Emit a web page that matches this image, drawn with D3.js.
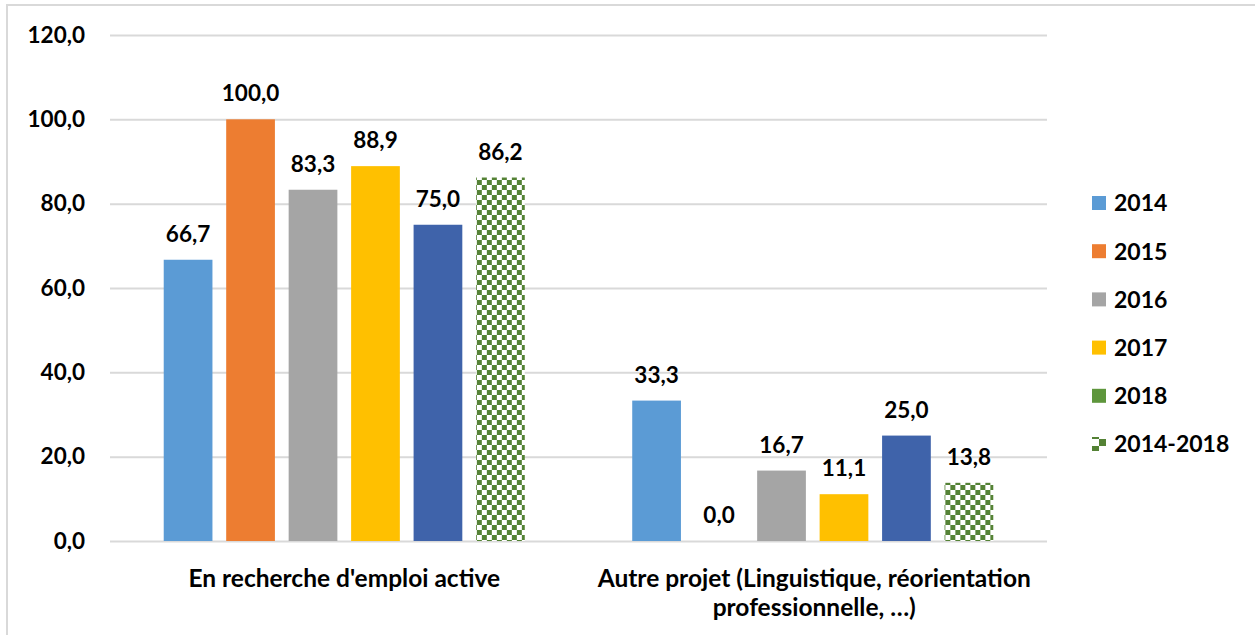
<!DOCTYPE html>
<html>
<head>
<meta charset="utf-8">
<script src="https://cdn.jsdelivr.net/npm/d3@7"></script>
<style>
html,body{margin:0;padding:0;background:#fff;}
svg{display:block;}
text{font-family:Lato,"Open Sans",sans-serif;font-weight:bold;fill:#000;}
</style>
</head>
<body>
<svg id="chart" width="1255" height="635"></svg>
<script>
const categories = ["En recherche d'emploi active", "Autre projet (Linguistique, réorientation professionnelle, …)"];
const categoryLines = [["En recherche d'emploi active"], ["Autre projet (Linguistique, réorientation", "professionnelle, …)"]];
const seriesNames = ["2014", "2015", "2016", "2017", "2018", "2014-2018"];
const values2014 = [66.7, 33.3];
const values2015 = [100.0, 0.0];
const values2016 = [83.3, 16.7];
const values2017 = [88.9, 11.1];
const values2018 = [75.0, 25.0];
const values20142018 = [86.2, 13.8];
const yTicks = [0, 20, 40, 60, 80, 100, 120];

const seriesValues = [values2014, values2015, values2016, values2017, values2018, values20142018];
const barColors = ["#5B9BD5", "#ED7D31", "#A5A5A5", "#FFC000", "#3F63AA", "url(#checker)"];
const legendColors = ["#5B9BD5", "#ED7D31", "#A5A5A5", "#FFC000", "#5E963C", "url(#checkerSmall)"];

const svg = d3.select("#chart");
const defs = svg.append("defs");
const pat = defs.append("pattern").attr("id","checker").attr("patternUnits","userSpaceOnUse")
  .attr("width",10).attr("height",10);
pat.append("rect").attr("width",10).attr("height",10).attr("fill","#fff");
pat.append("rect").attr("width",5).attr("height",5).attr("fill","#548235");
pat.append("rect").attr("x",5).attr("y",5).attr("width",5).attr("height",5).attr("fill","#548235");
const pat2 = defs.append("pattern").attr("id","checkerSmall").attr("patternUnits","userSpaceOnUse")
  .attr("width",14).attr("height",14).attr("x",1092).attr("y",436);
pat2.append("rect").attr("width",14).attr("height",14).attr("fill","#fff");
pat2.append("rect").attr("width",7).attr("height",7).attr("fill","#548235");
pat2.append("rect").attr("x",7).attr("y",7).attr("width",7).attr("height",7).attr("fill","#548235");

// outer border
svg.append("path").attr("d","M7,636 V5 H1256").attr("fill","none").attr("stroke","#D9D9D9").attr("stroke-width",2);

const mLeft = 110, mRight = 1047, mTop = 35, mBottom = 541;
const y = d3.scaleLinear().domain([0,120]).range([mBottom, mTop]);
const x0 = d3.scaleBand().domain(categories).range([mLeft,mRight]).paddingInner(0.2).paddingOuter(0.1);
const x1 = d3.scaleBand().domain(seriesNames).range([0, x0.bandwidth()]).paddingInner(0.22).paddingOuter(0.11);

const fmt = v => d3.format(".1f")(v).replace(".", ",");

// grid
const yAxis = d3.axisLeft(y).tickValues(yTicks).tickSize(-(mRight-mLeft)).tickFormat(fmt).tickPadding(25);
const ga = svg.append("g").attr("transform",`translate(${mLeft},0)`).call(yAxis);
ga.select(".domain").remove();
ga.selectAll(".tick line").attr("stroke","#D9D9D9").attr("stroke-width",2);
ga.selectAll(".tick text").style("font-size","22.5px").style("font-family","Lato,sans-serif").style("font-weight","bold").attr("fill","#000");

// bars
const groups = svg.append("g").selectAll("g").data(categories).join("g")
  .attr("transform", d => `translate(${x0(d)},0)`);
groups.each(function(cat, ci){
  const g = d3.select(this);
  const data = seriesNames.map((s, si) => ({s, si, v: seriesValues[si][ci]}));
  g.selectAll("rect").data(data).join("rect")
    .attr("x", d => x1(d.s)).attr("width", x1.bandwidth())
    .attr("y", d => y(d.v)).attr("height", d => y(0) - y(d.v))
    .attr("fill", d => barColors[d.si]);
  g.selectAll("text.val").data(data).join("text").attr("class","val")
    .attr("x", d => x1(d.s) + x1.bandwidth()/2).attr("y", d => y(d.v) - 18)
    .attr("text-anchor","middle").style("font-size","22.5px").text(d => fmt(d.v));
});

// category labels
categories.forEach((c, i) => {
  const cx = x0(c) + x0.bandwidth()/2 + (i === 1 ? 1.5 : 0);
  categoryLines[i].forEach((line, li) => {
    svg.append("text").attr("x", cx).attr("y", 587 + li*29).attr("text-anchor","middle")
      .style("font-size","24.5px").text(line);
  });
});

// legend
const lg = svg.append("g").selectAll("g").data(seriesNames).join("g")
  .attr("transform", (d,i) => `translate(0,${203 + i*48.2})`);
lg.append("rect").attr("x",1092).attr("y",-7).attr("width",14).attr("height",14)
  .attr("fill",(d,i) => legendColors[i]);
lg.append("text").attr("x",1114).attr("y",8.3).style("font-size","23px").text(d => d);
</script>
</body>
</html>
